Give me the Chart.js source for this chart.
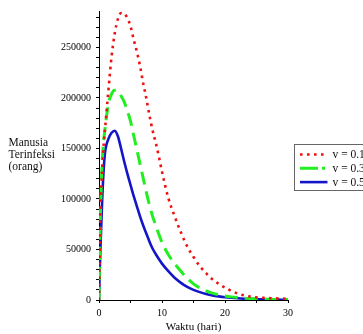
<!DOCTYPE html>
<html><head><meta charset="utf-8">
<script src="https://cdn.jsdelivr.net/npm/chart.js@4.4.0/dist/chart.umd.min.js"></script>
<style>html,body{margin:0;padding:0;background:#fff;overflow:hidden}#wrap{width:363px;height:334px;position:relative}</style>
</head><body><div id="wrap"><canvas id="c" width="363" height="334"></canvas></div>
<script>
const T = [0,0.1,0.25,0.5,0.75,1,1.5,2,2.5,3,3.5,4,4.5,5,5.5,6,6.5,7,7.5,8,8.5,9,9.5,10,11,12,13,14,15,16,17,18,19,20,21,22,23,24,25,26,27,28,29,30];
const redVals = [0,40000,90000,130000,155000,172000,208000,241000,264000,278000,284000,283500,279000,271000,258000,246000,232000,215000,200000,183000,168000,156000,142000,127000,101000,83000,67000,53000,42500,33500,26500,20500,16000,12300,9000,6500,4600,3400,2600,2200,1900,1600,1400,1200];
const greenVals = [0,40000,90000,135000,158000,172000,194000,204000,207500,207000,202000,196000,187000,177000,163000,149000,135000,121000,107000,94000,83000,74000,65000,57000,45000,36000,28500,21500,16000,12000,9000,6800,5200,4000,3100,2400,1800,1400,1100,900,700,550,450,350];
const blueVals = [0,25000,55000,98000,130000,148000,159500,165500,167500,162000,150000,137000,125000,114000,103000,93000,83000,74000,66000,58000,51000,45500,40500,36000,28500,22000,17000,13000,10000,7800,6000,4600,3600,2800,2200,1700,1300,1000,800,600,500,400,300,250];
const seriesLabels = ["v = 0.1","v = 0.3","v = 0.5"];
const yTitleLines = ["Manusia","Terinfeksi","(orang)"];
const xTitle = "Waktu (hari)";
const yTickValues = [0,10000,20000,30000,40000,50000,60000,70000,80000,90000,100000,110000,120000,130000,140000,150000,160000,170000,180000,190000,200000,210000,220000,230000,240000,250000,260000,270000,280000];
const yTickLabels = ["0","50000","100000","150000","200000","250000"];
const xTickValues = [0,5,10,15,20,25,30];
const xTickLabels = ["0","10","20","30"];
const yMax = 286000, xMax = 30;

const FONT = "'Liberation Serif','Times New Roman',serif";
function pts(vals){ return T.map((t,i)=>({x:t,y:vals[i]})); }
const legendDash = [[2.6,4.4],[18,4,3,20],[]];

const legendPlugin = {
  id:'customLegend',
  afterDraw(chart){
    const ctx = chart.ctx;
    ctx.save();
    ctx.fillStyle = '#111';
    ctx.font = "11.5px " + FONT;
    ctx.textBaseline = 'middle';
    ctx.textAlign = 'left';
    yTitleLines.forEach((l,i)=>ctx.fillText(l, 8.5, 143 + i*12));
    const bx = 294.5, by = 144.5;
    ctx.strokeStyle = '#666';
    ctx.lineWidth = 1;
    ctx.strokeRect(bx, by, 120, 46);
    chart.data.datasets.forEach((ds,i)=>{
      const y = by + 10 + i*13.8;
      ctx.beginPath();
      ctx.strokeStyle = ds.borderColor;
      ctx.lineWidth = ds.borderWidth;
      ctx.setLineDash(legendDash[i]);
      ctx.moveTo(bx + 5.5, y);
      ctx.lineTo(bx + 33, y);
      ctx.stroke();
      ctx.setLineDash([]);
      ctx.fillStyle = '#111';
      ctx.font = "11.5px " + FONT;
      ctx.fillText(ds.label, bx + 38, y + 0.5);
    });
    ctx.restore();
  }
};

new Chart(document.getElementById('c'), {
  type:'line',
  data:{
    datasets:[
      {label:seriesLabels[0], data:pts(redVals), borderColor:'#ee1111', borderWidth:2.6, borderDash:[2.6,4.4], pointRadius:0, cubicInterpolationMode:'monotone', fill:false},
      {label:seriesLabels[1], data:pts(greenVals), borderColor:'#22ee22', borderWidth:3, borderDash:[13,7], pointRadius:0, cubicInterpolationMode:'monotone', fill:false},
      {label:seriesLabels[2], data:pts(blueVals), borderColor:'#1515c8', borderWidth:2.6, pointRadius:0, cubicInterpolationMode:'monotone', fill:false}
    ]
  },
  options:{
    responsive:false, animation:false, devicePixelRatio:1,
    layout:{padding:{left:0, right:75, top:7, bottom:0}},
    plugins:{legend:{display:false}, tooltip:{enabled:false}},
    scales:{
      x:{type:'linear', min:0, max:xMax,
        border:{display:true, color:'#000', width:1},
        grid:{drawOnChartArea:false, drawTicks:true, tickLength:3, color:'#000'},
        afterBuildTicks:(s)=>{ s.ticks = xTickValues.map(v=>({value:v})); },
        ticks:{autoSkip:false, maxRotation:0, padding:4, color:'#000', font:{family:FONT, size:10},
          callback:(v)=> (xTickLabels.includes(String(v)) ? String(v) : '')},
        title:{display:true, text:xTitle, color:'#000', font:{family:FONT, size:11}, padding:{top:0,bottom:0}},
        afterFit:(s)=>{ s.height = 34; }
      },
      y:{type:'linear', min:0, max:yMax,
        border:{display:true, color:'#000', width:1},
        grid:{drawOnChartArea:false, drawTicks:true, tickLength:3, color:'#000'},
        afterBuildTicks:(s)=>{ s.ticks = yTickValues.map(v=>({value:v})); },
        ticks:{autoSkip:false, padding:5, color:'#000', font:{family:FONT, size:10},
          callback:(v)=> (yTickLabels.includes(String(v)) ? String(v) : '')},
        afterFit:(s)=>{ s.width = 99; }
      }
    }
  },
  plugins:[legendPlugin]
});
</script></body></html>
